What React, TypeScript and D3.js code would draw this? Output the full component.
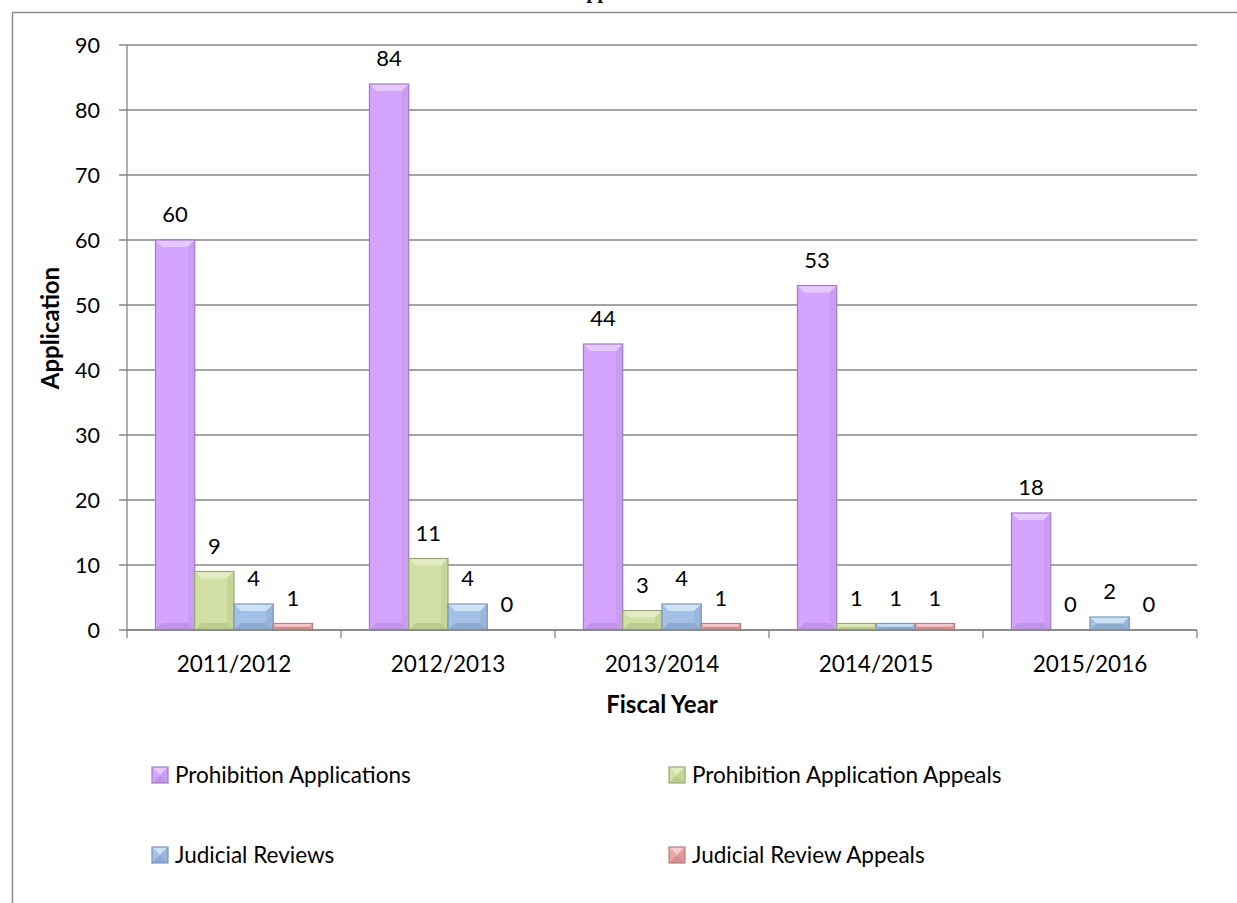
import React from 'react';
import * as d3 from 'd3';

const years = ['2011/2012', '2012/2013', '2013/2014', '2014/2015', '2015/2016'];
const seriesNames = [
  'Prohibition Applications',
  'Prohibition Application Appeals',
  'Judicial Reviews',
  'Judicial Review Appeals',
];
const prohibitionApps = [60, 84, 44, 53, 18];
const prohibitionAppeals = [9, 11, 3, 1, 0];
const judicialReviews = [4, 4, 4, 1, 2];
const judicialReviewAppeals = [1, 0, 1, 1, 0];
const yTicks = [0, 10, 20, 30, 40, 50, 60, 70, 80, 90];

const seriesValues = [prohibitionApps, prohibitionAppeals, judicialReviews, judicialReviewAppeals];

// base, light (top bevel), dark (bottom bevel), outline
const palette = [
  { base: '#d5a5fd', light: '#e6c9ff', dark: '#c095e8', edge: '#9d7cc4' },
  { base: '#d2dfa5', light: '#e4ecc4', dark: '#bccb8e', edge: '#98a872' },
  { base: '#a3c1e6', light: '#cfe1f6', dark: '#8eaad0', edge: '#7b96b8' },
  { base: '#eaa5a5', light: '#f5cccc', dark: '#d38f8f', edge: '#b87b7b' },
];

const FONT = 'Lato, "Open Sans", sans-serif';

const Bar = ({ x, y, w, h, c }: { x: number; y: number; w: number; h: number; c: typeof palette[0] }) => {
  if (h <= 0) return null;
  const b = Math.min(7, h / 2, w / 2);
  const x2 = x + w;
  const y2 = y + h;
  return (
    <g>
      <rect x={x} y={y} width={w} height={h} fill={c.base} />
      <polygon points={`${x},${y} ${x2},${y} ${x2 - b},${y + b} ${x + b},${y + b}`} fill={c.light} />
      <polygon points={`${x2},${y} ${x2},${y2} ${x2 - b},${y2 - b} ${x2 - b},${y + b}`} fill={c.dark} opacity={0.5} />
      <polygon points={`${x},${y2} ${x + b},${y2 - b} ${x2 - b},${y2 - b} ${x2},${y2}`} fill={c.dark} />
      <rect x={x} y={y} width={w} height={h} fill="none" stroke={c.edge} strokeWidth={1.2} />
    </g>
  );
};

export default function App() {
  const W = 1237;
  const H = 903;
  const left = 127;
  const right = 1197;
  const top = 45;
  const bottom = 630;

  const x0 = d3.scaleBand<string>().domain(years).range([left, right]).padding(0);
  const gap = x0.bandwidth() * 0.266;
  const x1 = d3
    .scaleBand<number>()
    .domain(d3.range(seriesNames.length))
    .range([gap / 2, x0.bandwidth() - gap / 2])
    .padding(0);
  const y = d3.scaleLinear().domain([0, 90]).range([bottom, top]);

  const gridColor = '#868686';

  const legendPos = [
    { x: 152, y: 767 },
    { x: 669, y: 767 },
    { x: 152, y: 847 },
    { x: 669, y: 847 },
  ];

  return (
    <svg
      width={W}
      height={H}
      style={{ position: 'absolute', left: 0, top: 0, background: '#fff' }}
      fontFamily={FONT}
    >
      <rect x={0} y={0} width={W} height={H} fill="#fff" />
      <text x={572} y={-2} fontFamily='"Liberation Serif", serif' fontWeight="bold" fontSize={20} fill="#000">
        Applications
      </text>
      {/* outer chart frame */}
      <path d={`M12.5,${H + 5} V12.5 H${W + 5}`} fill="none" stroke="#8c8c8c" strokeWidth={1.5} />

      {/* gridlines */}
      {yTicks.map((t) => (
        <g key={t}>
          <line x1={left - 8} x2={right} y1={y(t)} y2={y(t)} stroke={gridColor} strokeWidth={1.3} />
          <text x={100} y={y(t)} dy="0.36em" textAnchor="end" fontSize={21.5} fill="#000">
            {t}
          </text>
        </g>
      ))}
      {/* y axis */}
      <line x1={left} x2={left} y1={top} y2={bottom} stroke={gridColor} strokeWidth={1.3} />
      {/* x ticks */}
      {[...years.map((d) => x0(d) as number), right].map((tx, i) => (
        <line key={i} x1={tx} x2={tx} y1={bottom} y2={bottom + 8} stroke={gridColor} strokeWidth={1.3} />
      ))}

      {/* bars */}
      {years.map((yr, i) => (
        <g key={yr}>
          {seriesValues.map((vals, s) => {
            const bx = (x0(yr) as number) + (x1(s) as number);
            const bw = x1.bandwidth();
            const v = vals[i];
            return (
              <g key={s}>
                <Bar x={bx} y={y(v)} w={bw} h={y(0) - y(v)} c={palette[s]} />
                <text x={bx + bw / 2} y={y(v) - 18} textAnchor="middle" fontSize={22} fill="#000">
                  {v}
                </text>
              </g>
            );
          })}
        </g>
      ))}
      <line x1={left} x2={right} y1={bottom} y2={bottom} stroke={gridColor} strokeWidth={1.3} />

      {/* category labels */}
      {years.map((yr) => (
        <text
          key={yr}
          x={(x0(yr) as number) + x0.bandwidth() / 2}
          y={672}
          textAnchor="middle"
          fontSize={22.5}
          fill="#000"
        >
          {yr}
        </text>
      ))}

      {/* axis titles */}
      <text x={662} y={713} textAnchor="middle" fontSize={24} fontWeight="bold" fill="#000">
        Fiscal Year
      </text>
      <text
        transform={`translate(59,328) rotate(-90)`}
        textAnchor="middle"
        fontSize={24}
        fontWeight="bold"
        fill="#000"
      >
        Application
      </text>

      {/* legend */}
      {seriesNames.map((name, s) => (
        <g key={name} transform={`translate(${legendPos[s].x},${legendPos[s].y})`}>
          <Bar x={0} y={0} w={16} h={16} c={palette[s]} />
          <text x={23} y={16} fontSize={22.5} fill="#000">
            {name}
          </text>
        </g>
      ))}
    </svg>
  );
}
